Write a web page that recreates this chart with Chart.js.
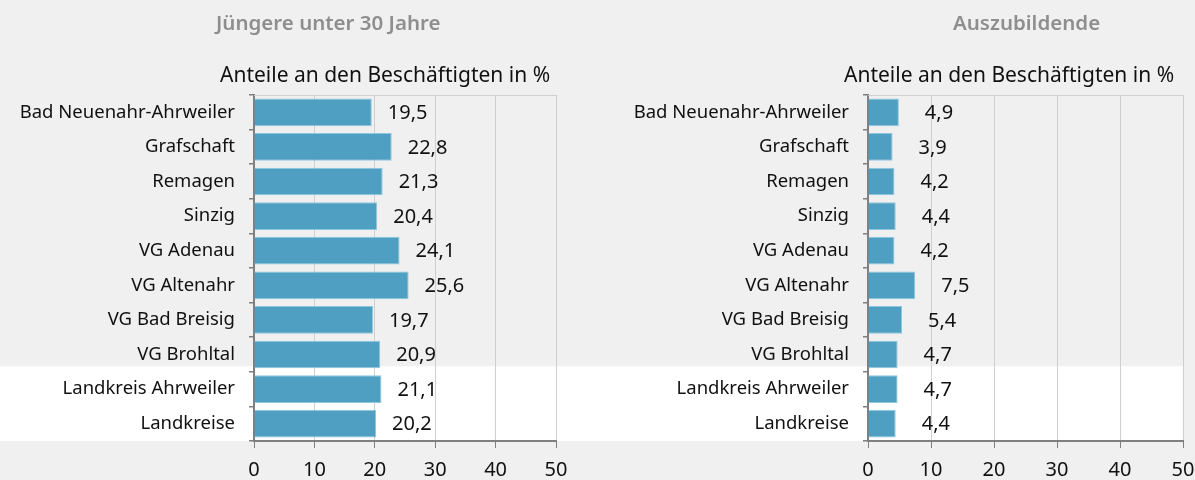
<!DOCTYPE html>
<html>
<head>
<meta charset="utf-8">
<script src="https://cdn.jsdelivr.net/npm/chart.js@4.4.0/dist/chart.umd.min.js"></script>
<style>
  html, body { margin: 0; padding: 0; background: #eff0ef; }
  #wrap { position: relative; width: 1195px; height: 480px; overflow: hidden; font-family: "Noto Sans", sans-serif; }
  .box { position: absolute; top: 0; height: 480px; }
  #left { left: 0; width: 600px; }
  #right { left: 600px; width: 595px; }
  .title { position: absolute; top: 8px; font-size: 20.5px; font-weight: 600; color: #8e8e8e; white-space: nowrap; }
  .sub { position: absolute; top: 60px; font-size: 21px; color: #111; white-space: nowrap; }
  canvas { position: absolute; left: 0; top: 0; }
</style>
</head>
<body>
<div id="wrap">
  <div class="box" id="left">
    <canvas id="chartLeft" width="600" height="480"></canvas>
    <div class="title" style="left:216px">Jüngere unter 30 Jahre</div>
    <div class="sub" style="left:220px">Anteile an den Beschäftigten in %</div>
  </div>
  <div class="box" id="right">
    <canvas id="chartRight" width="595" height="480"></canvas>
    <div class="title" style="left:353px">Auszubildende</div>
    <div class="sub" style="left:244px">Anteile an den Beschäftigten in %</div>
  </div>
</div>
<script>
const categories = [
  'Bad Neuenahr-Ahrweiler', 'Grafschaft', 'Remagen', 'Sinzig', 'VG Adenau',
  'VG Altenahr', 'VG Bad Breisig', 'VG Brohltal', 'Landkreis Ahrweiler', 'Landkreise'
];
const youngShare = [19.5, 22.8, 21.3, 20.4, 24.1, 25.6, 19.7, 20.9, 21.1, 20.2];
const traineeShare = [4.9, 3.9, 4.2, 4.4, 4.2, 7.5, 5.4, 4.7, 4.7, 4.4];
const xTicks = [0, 10, 20, 30, 40, 50];

const FONT = '"Noto Sans", sans-serif';
const AXIS_GREY = '#7f7f7f';

// white band behind the two summary rows + thin line on top of the plot
const backdrop = {
  id: 'backdrop',
  beforeDraw(chart, args, opts) {
    const { ctx, chartArea, scales: { y } } = chart;
    const top = y.getPixelForValue(7.5) - 5.5;
    const bottom = y.getPixelForValue(9.5);
    ctx.save();
    ctx.fillStyle = '#ffffff';
    const right = opts.fullWidth ? chart.width : chartArea.right;
    ctx.fillRect(0, top, right, bottom - top);
    ctx.restore();
  },
  afterDraw(chart) {
    const { ctx, chartArea } = chart;
    ctx.save();
    ctx.strokeStyle = '#cfcfcf';
    ctx.lineWidth = 1;
    ctx.beginPath();
    ctx.moveTo(chartArea.left, chartArea.top + 0.5);
    ctx.lineTo(chartArea.right, chartArea.top + 0.5);
    ctx.stroke();
    ctx.restore();
  }
};

// value labels to the right of each bar, German decimal comma
const valueLabels = {
  id: 'valueLabels',
  afterDatasetsDraw(chart, args, opts) {
    const { ctx } = chart;
    const meta = chart.getDatasetMeta(0);
    const values = chart.data.datasets[0].data;
    ctx.save();
    ctx.font = '20px ' + FONT;
    ctx.fillStyle = '#111';
    ctx.textAlign = 'left';
    ctx.textBaseline = 'middle';
    meta.data.forEach((bar, i) => {
      const txt = values[i].toFixed(1).replace('.', ',');
      ctx.fillText(txt, bar.x + opts.offset, bar.y + 1);
    });
    ctx.restore();
  }
};

function makeChart(id, values, yWidth, rightPad, labelOffset, fullWidth) {
  return new Chart(document.getElementById(id), {
    type: 'bar',
    data: {
      labels: categories,
      datasets: [{
        data: values,
        backgroundColor: '#4e9fc1',
        borderColor: '#8fc7dd',
        borderWidth: 1,
        barPercentage: 0.8,
        categoryPercentage: 1
      }]
    },
    options: {
      indexAxis: 'y',
      responsive: false,
      animation: false,
      layout: { padding: { top: 95, right: rightPad, left: 0, bottom: 0 } },
      plugins: {
        legend: { display: false },
        tooltip: { enabled: false },
        backdrop: { fullWidth },
        valueLabels: { offset: labelOffset }
      },
      scales: {
        x: {
          min: xTicks[0],
          max: xTicks[xTicks.length - 1],
          afterBuildTicks: (s) => { s.ticks = xTicks.map(v => ({ value: v })); },
          afterFit: (s) => { s.height = 39; s.paddingLeft = 0; s.paddingRight = 0; },
          grid: { color: '#cfcfcf', lineWidth: 1, tickColor: AXIS_GREY, tickLength: 7 },
          border: { color: AXIS_GREY, width: 2 },
          ticks: { color: '#111', font: { family: FONT, size: 20 }, padding: 10 }
        },
        y: {
          afterFit: (s) => { s.width = yWidth; },
          grid: { drawOnChartArea: false, color: AXIS_GREY, lineWidth: 1.5, tickLength: 5 },
          border: { color: AXIS_GREY, width: 2 },
          ticks: { color: '#111', font: { family: FONT, size: 18.5 }, padding: 14 }
        }
      }
    },
    plugins: [backdrop, valueLabels]
  });
}

makeChart('chartLeft', youngShare, 254, 44, 16, true);
makeChart('chartRight', traineeShare, 268, 12, 26, false);
</script>
</body>
</html>
